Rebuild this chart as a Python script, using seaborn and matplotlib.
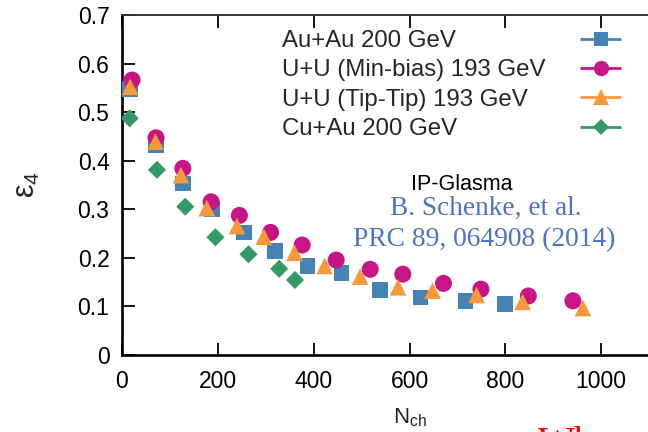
import numpy as np
import matplotlib
matplotlib.use("Agg")
import matplotlib.pyplot as plt
import seaborn as sns
from matplotlib.container import ErrorbarContainer
from matplotlib.legend_handler import HandlerErrorbar
from matplotlib.lines import Line2D

# eps_4 versus charged multiplicity, IP-Glasma
auau_nch = [17, 71, 127, 188, 254, 320, 387, 458, 539, 623, 717, 800]
auau_eps4 = [0.548, 0.431, 0.353, 0.300, 0.252, 0.214, 0.183, 0.168, 0.133, 0.118, 0.111, 0.105]

uu_mb_nch = [21, 71, 127, 186, 245, 310, 376, 447, 518, 586, 671, 749, 848, 941]
uu_mb_eps4 = [0.566, 0.447, 0.384, 0.315, 0.287, 0.252, 0.226, 0.195, 0.176, 0.166, 0.147, 0.135, 0.121, 0.111]

uu_tt_nch = [17, 70, 123, 177, 240, 296, 360, 423, 497, 576, 648, 740, 836, 962]
uu_tt_eps4 = [0.552, 0.439, 0.370, 0.302, 0.265, 0.243, 0.210, 0.183, 0.161, 0.139, 0.132, 0.123, 0.109, 0.096]

cuau_nch = [16, 73, 132, 195, 264, 328, 361]
cuau_eps4 = [0.487, 0.381, 0.305, 0.242, 0.207, 0.177, 0.154]

labels = ["Au+Au 200 GeV", "U+U (Min-bias) 193 GeV", "U+U (Tip-Tip) 193 GeV", "Cu+Au 200 GeV"]
colors = ["#4682b4", "#c71585", "#f7993b", "#339966"]
markers = ["s", "o", "^", "D"]
sizes = [128, 150, 144, 85]
legend_ms = [10.5, 11, 11, 8.5]

x_ticks = [0, 200, 400, 600, 800, 1000]
y_ticks = [0, 0.1, 0.2, 0.3, 0.4, 0.5, 0.6, 0.7]
y_ticklabels = ["0", "0.1", "0.2", "0.3", "0.4", "0.5", "0.6", "0.7"]

sns.set_style("ticks")
plt.rcParams["font.family"] = ["Liberation Sans", "DejaVu Sans"]
plt.rcParams["mathtext.default"] = "regular"

W, H = 648, 432
fig = plt.figure(figsize=(W / 100, H / 100), dpi=100)
ax = fig.add_axes([122 / W, (H - 354.7) / H, 575 / W, (354.7 - 15) / H])

series = [(auau_nch, auau_eps4), (uu_mb_nch, uu_mb_eps4), (uu_tt_nch, uu_tt_eps4), (cuau_nch, cuau_eps4)]
handles = []
for i, ((xs, ys), lab, col, mk, sz) in enumerate(zip(series, labels, colors, markers, sizes)):
    sns.scatterplot(x=xs, y=ys, marker=mk, color=col, s=sz, linewidth=0,
                    edgecolor="none", ax=ax, zorder=3 + i, legend=False)
    # key sample drawn in errorbar style
    h = ax.errorbar([np.nan], [np.nan], xerr=[1.0], fmt=mk, color=col, ms=legend_ms[i],
                    mew=0, capsize=3.9, elinewidth=2.0, capthick=2.0, label=lab)
    handles.append(h)

ax.set_xlim(0, 1200)
ax.set_ylim(0, 0.7)
ax.set_xticks(x_ticks)
ax.set_yticks(y_ticks)
ax.set_yticklabels(y_ticklabels)
ax.tick_params(direction="in", length=9, width=1.3, top=True, right=True,
               labelsize=16.5, colors="black")
ax.tick_params(axis="x", pad=11)
ax.tick_params(axis="y", pad=9)
for side in ["left", "bottom"]:
    ax.spines[side].set_linewidth(1.9)
    ax.spines[side].set_color("black")
for side in ["top", "right"]:
    ax.spines[side].set_linewidth(1.4)
    ax.spines[side].set_color("#333333")

ax.set_xlabel("N$_{ch}$", fontsize=16, labelpad=10)
ax.set_ylabel("ε$_4$", fontsize=22, labelpad=26)

fs = 17.3
common = dict(frameon=False, numpoints=1, fontsize=fs, loc="upper left",
              bbox_transform=fig.transFigure, borderpad=0, borderaxespad=0,
              labelspacing=0.31)

# key texts, left aligned
blank = [Line2D([], [], linestyle="none") for _ in labels]
leg_text = ax.legend(blank, labels, handlelength=0, handletextpad=0,
                     bbox_to_anchor=(282 / W, 1 - 30 / H), **common)
ax.add_artist(leg_text)

# key samples in their own column on the right
sample_pts = 41 * 72 / 100
leg_keys = ax.legend(handles, [""] * len(labels),
                     handler_map={ErrorbarContainer: HandlerErrorbar(xerr_size=sample_pts / 2 / fs)},
                     handlelength=sample_pts / fs, handletextpad=0,
                     bbox_to_anchor=(580 / W, 1 - 30 / H), **common)

fig.text(462 / W, 1 - 185 / H, "IP-Glasma", fontsize=15.5, ha="center", va="center", color="black")
fig.text(485.5 / W, 1 - 208 / H, "B. Schenke, et al.", fontsize=19.6, ha="center", va="center",
         color="#4a74c4", family="Liberation Serif")
fig.text(484.5 / W, 1 - 240 / H, "PRC 89, 064908 (2014)", fontsize=19.8, ha="center", va="center",
         color="#4a74c4", family="Liberation Serif")

# slide heading below the plot
fig.text(538 / W, 1 - 426 / H, "Wh", fontsize=28, ha="left", va="top",
         color="red", family="Liberation Serif")

fig.savefig("out.png", dpi=100)
